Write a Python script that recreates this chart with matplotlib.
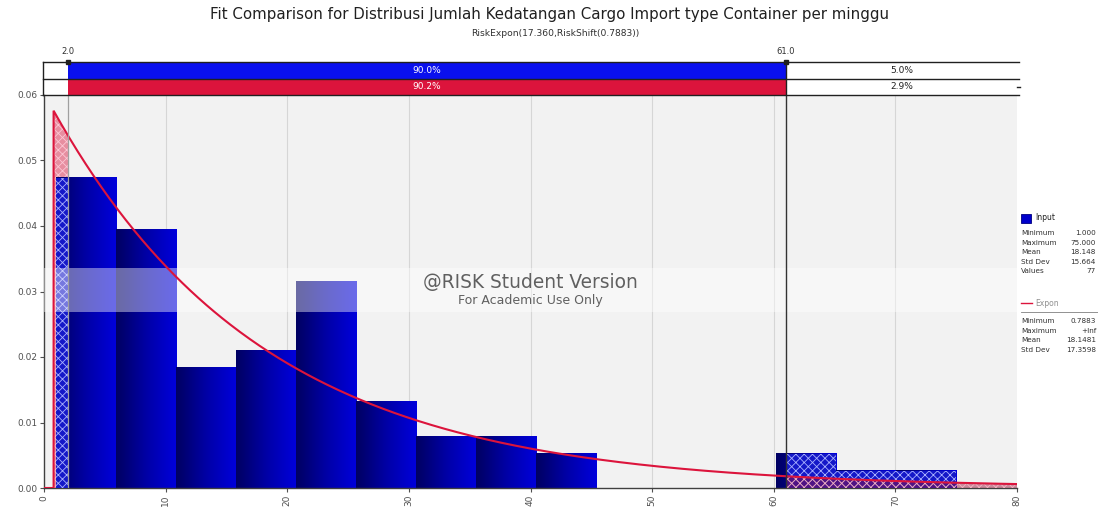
import numpy as np
import matplotlib
matplotlib.use("Agg")
import matplotlib.pyplot as plt
from matplotlib.colors import LinearSegmentedColormap
from matplotlib.patches import Rectangle

# ---- data -------------------------------------------------------------
title = "Fit Comparison for Distribusi Jumlah Kedatangan Cargo Import type Container per minggu"
subtitle = "RiskExpon(17.360,RiskShift(0.7883))"

# input histogram: 15 equal bins between the data min and max
bin_min = 1.0
bin_max = 75.0
counts = [18, 15, 7, 8, 12, 5, 3, 3, 2, 0, 0, 0, 2, 1, 1]
n_values = 77

# fitted shifted exponential
expon_beta = 17.360
expon_shift = 0.7883

# delimiters and the probabilities shown in the top bands
left_delim = 2.0
right_delim = 61.0
input_mid, input_right = "90.0%", "5.0%"
fit_mid, fit_right = "90.2%", "2.9%"

x_ticks = [0, 10, 20, 30, 40, 50, 60, 70, 80]
y_ticks = [0.00, 0.01, 0.02, 0.03, 0.04, 0.05, 0.06]

input_stats = [("Minimum", "1.000"), ("Maximum", "75.000"), ("Mean", "18.148"),
               ("Std Dev", "15.664"), ("Values", "77")]
fit_stats = [("Minimum", "0.7883"), ("Maximum", "+Inf"), ("Mean", "18.1481"),
             ("Std Dev", "17.3598")]

# ---- figure -----------------------------------------------------------
W, H, DPI = 1098, 511, 100
fig = plt.figure(figsize=(W / DPI, H / DPI), dpi=DPI)
fig.patch.set_facecolor("white")

X0, X1 = 44, 1017     # pixel columns of x = 0 and x = 80
YB, YT = 488, 95      # pixel rows of the main plot bottom / top
BT = 62               # top of the delimiter band

ax = fig.add_axes([X0 / W, 1 - YB / H, (X1 - X0) / W, (YB - YT) / H])
band = fig.add_axes([X0 / W, 1 - YT / H, (X1 - X0) / W, (YT - BT) / H])

RED = "#dc143c"
BLUE = "#0a10ee"

# main plot
ax.set_xlim(0, 80)
ax.set_ylim(0, 0.06)
ax.set_facecolor("#f2f2f2")
for xv in x_ticks[1:-1]:
    ax.axvline(xv, color="#d6d6d6", lw=0.8, zorder=0)

edges = np.linspace(bin_min, bin_max, len(counts) + 1)
width = edges[1] - edges[0]
dens = np.array(counts) / (n_values * width)

# fitted density curve
xs = np.linspace(expon_shift, 80, 600)
pdf = np.exp(-(xs - expon_shift) / expon_beta) / expon_beta
curve_x = np.concatenate([[0, expon_shift], xs])
curve_y = np.concatenate([[0, 0], pdf])

plt.rcParams["hatch.linewidth"] = 0.6

# hatched tail areas under the fitted curve
m = (xs >= expon_shift) & (xs <= left_delim)
ax.fill_between(xs[m], 0, pdf[m], facecolor=(0.86, 0.08, 0.24, 0.45),
                edgecolor=(1, 0.8, 0.85, 0.9), hatch="xxxx", lw=0, zorder=1.5)

grad_cmap = LinearSegmentedColormap.from_list("bar", ["#000062", "#0000a6", "#0000dc"])
grad = np.linspace(0, 1, 64).reshape(1, -1)
for lo, hi, h in zip(edges[:-1], edges[1:], dens):
    if h <= 0:
        continue
    ax.imshow(grad, extent=[lo, hi, 0, h], cmap=grad_cmap, aspect="auto",
              interpolation="bilinear", zorder=2)

# hatched tails of the input histogram
for lo, hi, h in zip(edges[:-1], edges[1:], dens):
    if h <= 0:
        continue
    for a, b in ((lo, min(hi, left_delim)), (max(lo, right_delim), hi)):
        if b > a:
            ax.add_patch(Rectangle((a, 0), b - a, h, facecolor="#1418c8",
                                   edgecolor="#a8b0ff", hatch="xxxx", lw=0, zorder=3))

m = (xs >= right_delim) & (xs <= 80)
ax.fill_between(xs[m], 0, pdf[m], facecolor=(0.6, 0.05, 0.2, 0.45),
                edgecolor=(1, 0.75, 0.8, 0.8), hatch="xxxx", lw=0, zorder=4)

# watermark band
ax.axhspan(0.02687, 0.03359, color="white", alpha=0.42, lw=0, zorder=5)
ax.text(40.0, 0.0313, "@RISK Student Version", ha="center", va="center",
        fontsize=13.4, color="#606060", zorder=6)
ax.text(40.0, 0.0287, "For Academic Use Only", ha="center", va="center",
        fontsize=9, color="#606060", zorder=6)

ax.plot(curve_x, curve_y, color=RED, lw=1.5, zorder=7, solid_joinstyle="miter")

# delimiter lines through the plot
ax.axvline(left_delim, color="#a0a0a0", lw=0.9, zorder=8)
ax.axvline(right_delim, color="#333333", lw=1.0, zorder=8)

ax.set_xticks(x_ticks)
ax.set_xticklabels([str(v) for v in x_ticks], rotation=90)
ax.set_yticks(y_ticks)
ax.set_yticklabels([f"{v:.2f}" for v in y_ticks])
ax.tick_params(labelsize=6.5, colors="#505050", length=3, width=0.8, pad=2)
for s in ("top", "right"):
    ax.spines[s].set_visible(False)
for s in ("left", "bottom"):
    ax.spines[s].set_color("#404040")
    ax.spines[s].set_linewidth(1.0)

# delimiter band
band.set_xlim(0, 80)
band.set_ylim(0, 2)
band.axis("off")
band.add_patch(Rectangle((left_delim, 1), right_delim - left_delim, 1, facecolor=BLUE, lw=0))
band.add_patch(Rectangle((left_delim, 0), right_delim - left_delim, 1, facecolor=RED, lw=0))
for yv in (0, 1, 2):
    band.plot([-0.1, 80.2], [yv, yv], color="#202020", lw=1.0, clip_on=False)
band.plot([-0.05, -0.05], [0, 2], color="#202020", lw=1.0, clip_on=False)
band.plot([right_delim, right_delim], [0, 2], color="#202020", lw=1.0)
mid = (left_delim + right_delim) / 2
rmid = (right_delim + 80) / 2
band.text(mid, 1.5, input_mid, ha="center", va="center", fontsize=6.5, color="white")
band.text(mid, 0.5, fit_mid, ha="center", va="center", fontsize=6.5, color="white")
band.text(rmid, 1.5, input_right, ha="center", va="center", fontsize=6.5, color="#202020")
band.text(rmid, 0.5, fit_right, ha="center", va="center", fontsize=6.5, color="#202020")
band.plot([80.0, 80.25], [0.5, 0.5], color="#202020", lw=1.0, clip_on=False)
for xv in (left_delim, right_delim):
    band.plot([xv], [2], marker="s", ms=3, color="#202020", clip_on=False)
band.text(left_delim, 2.35, f"{left_delim:.1f}", ha="center", va="bottom", fontsize=6, color="#303030")
band.text(right_delim, 2.35, f"{right_delim:.1f}", ha="center", va="bottom", fontsize=6, color="#303030")

# titles
fig.text(0.5, 1 - 14 / H, title, ha="center", va="center", fontsize=10.8, color="#202020")
fig.text(0.506, 1 - 33 / H, subtitle, ha="center", va="center", fontsize=6.6, color="#303030")

# legend block at the right edge
LX = 1021
fig.patches.append(Rectangle((LX / W, 1 - 223 / H), 10 / W, 9 / H, transform=fig.transFigure,
                             facecolor="#0000cc", edgecolor="#000080", lw=0.6))
fig.text((LX + 14) / W, 1 - 218 / H, "Input", fontsize=5.5, va="center", color="#202020")
for i, (k, v) in enumerate(input_stats):
    yy = 1 - (233 + i * 9.5) / H
    fig.text(LX / W, yy, k, fontsize=5.2, va="center", color="#303030")
    fig.text(1096 / W, yy, v, fontsize=5.2, va="center", ha="right", color="#303030")

fig.lines.append(plt.Line2D([LX / W, (LX + 11) / W], [1 - 303 / H] * 2, transform=fig.transFigure,
                            color=RED, lw=1.0))
fig.text((LX + 14) / W, 1 - 303 / H, "Expon", fontsize=5.5, va="center", color="#909090")
fig.lines.append(plt.Line2D([LX / W, 1.0], [1 - 312 / H] * 2, transform=fig.transFigure,
                            color="#808080", lw=0.6))
for i, (k, v) in enumerate(fit_stats):
    yy = 1 - (321 + i * 9.5) / H
    fig.text(LX / W, yy, k, fontsize=5.2, va="center", color="#303030")
    fig.text(1096 / W, yy, v, fontsize=5.2, va="center", ha="right", color="#303030")

fig.savefig("out.png", dpi=DPI)
